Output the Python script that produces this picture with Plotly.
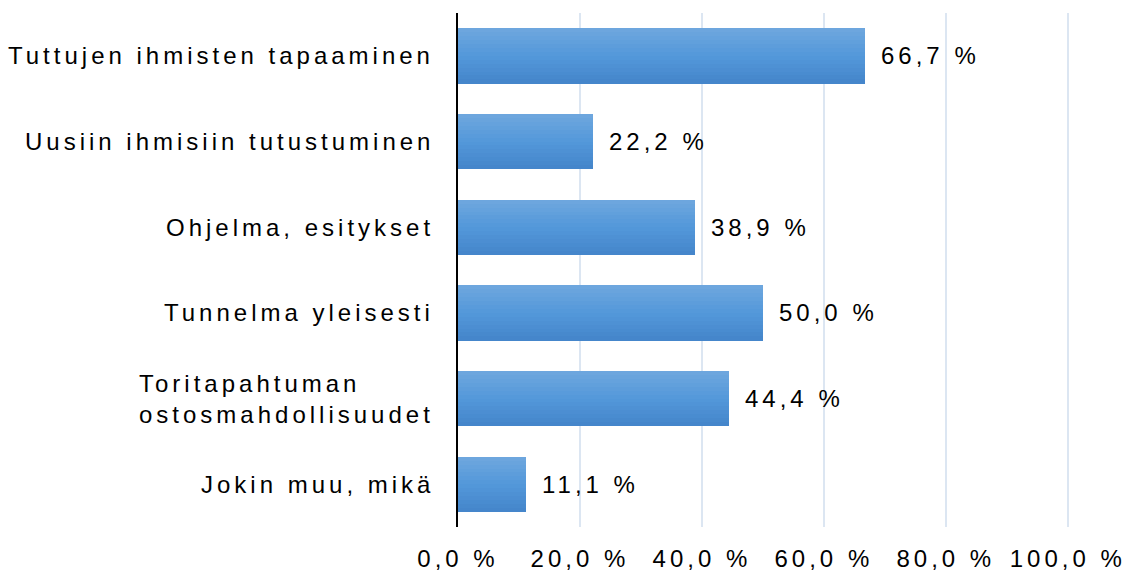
import plotly.graph_objects as go

categories = [
    "Tuttujen ihmisten tapaaminen",
    "Uusiin ihmisiin tutustuminen",
    "Ohjelma, esitykset",
    "Tunnelma yleisesti",
    "Toritapahtuman<br>ostosmahdollisuudet",
    "Jokin muu, mikä",
]
values = [66.7, 22.2, 38.9, 50.0, 44.4, 11.1]
value_labels = ["66,7 %", "22,2 %", "38,9 %", "50,0 %", "44,4 %", "11,1 %"]
x_tickvals = [0, 20, 40, 60, 80, 100]
x_ticktext = ["0,0 %", "20,0 %", "40,0 %", "60,0 %", "80,0 %", "100,0 %"]

FONT = "Liberation Sans, Arial, sans-serif"
BAR_W = 0.64
N = 14
top = (111, 167, 222)
mid = (83, 152, 218)
bot = (68, 133, 202)


def lerp(a, b, t):
    return tuple(round(a[k] + (b[k] - a[k]) * t) for k in range(3))


fig = go.Figure()
for i in range(N):
    t = (i + 0.5) / N
    c = lerp(top, mid, t * 2) if t < 0.5 else lerp(mid, bot, (t - 0.5) * 2)
    fig.add_trace(go.Bar(
        x=values, y=categories, orientation="h",
        width=BAR_W / N + 0.004,
        offset=-BAR_W / 2 + i * BAR_W / N,
        marker=dict(color="rgb(%d,%d,%d)" % c, line=dict(width=0)),
        showlegend=False, hoverinfo="skip",
    ))

annotations = []
for cat, v, lab in zip(categories, values, value_labels):
    annotations.append(dict(
        x=v, y=cat, xref="x", yref="y", text=lab, showarrow=False,
        xanchor="left", yanchor="middle", xshift=14,
        font=dict(family=FONT, size=24, color="#000000"),
    ))
    annotations.append(dict(
        x=0, y=cat, xref="paper", yref="y", text=cat, showarrow=False,
        xanchor="right", yanchor="middle", xshift=-22, align="left",
        font=dict(family=FONT, size=24, color="#000000"),
    ))

fig.update_layout(
    width=1130, height=577, autosize=False,
    margin=dict(l=458, r=61, t=13, b=50),
    paper_bgcolor="white", plot_bgcolor="white",
    barmode="overlay", bargap=0,
    annotations=annotations,
    xaxis=dict(
        range=[0, 100.2], tickvals=x_tickvals, ticktext=x_ticktext,
        automargin=False,
        showgrid=True, gridcolor="#dce6f2", gridwidth=1.5,
        zeroline=False, showline=False,
        ticks="outside", ticklen=10, tickcolor="rgba(0,0,0,0)",
        tickfont=dict(family=FONT, size=24, color="#000000"),
        fixedrange=True,
    ),
    yaxis=dict(
        categoryorder="array", categoryarray=categories,
        range=[5.5, -0.5], automargin=False,
        showticklabels=False, showgrid=False, zeroline=False,
        showline=True, linecolor="#000000", linewidth=2,
        ticks="", fixedrange=True,
    ),
)

# add letter spacing via CSS, then change the font family string so that
# plotly re-measures the text boxes with the spacing included
post = """
var s=document.createElement('style');
s.textContent='html,body{margin:0;padding:0;overflow:hidden;} svg text{letter-spacing:4px;}';
document.head.appendChild(s);
var gd=document.getElementById('{plot_id}');
var upd={};
(gd.layout.annotations||[]).forEach(function(a,i){
  upd['annotations['+i+'].font.family']=a.font.family+', serif';
});
upd['xaxis.tickfont.family']=gd.layout.xaxis.tickfont.family+', serif';
Plotly.relayout(gd, upd);
"""
fig.write_html("out.html", post_script=post,
               config={"displayModeBar": False, "responsive": False})
